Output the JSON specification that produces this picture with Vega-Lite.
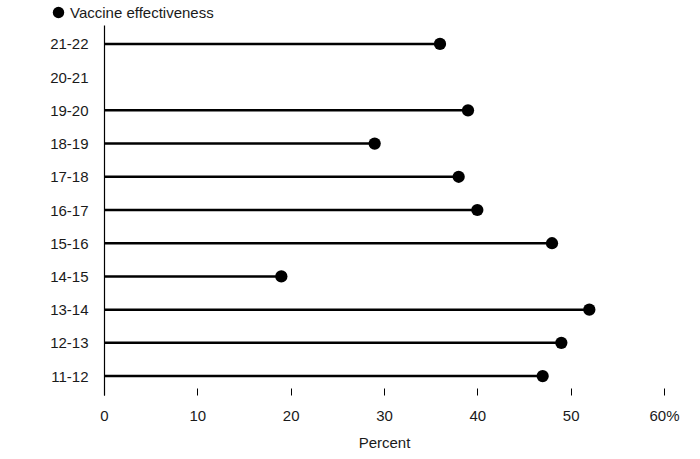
{
  "$schema": "https://vega.github.io/schema/vega-lite/v6.json",
  "width": 560,
  "height": 370,
  "autosize": "none",
  "padding": {"left": 104, "top": 25, "right": 36, "bottom": 64},
  "config": {
    "font": "Liberation Sans",
    "view": {"stroke": null},
    "axis": {"labelFont": "Liberation Sans", "titleFont": "Liberation Sans", "labelColor": "#1a1a1a", "titleColor": "#1a1a1a", "labelFontSize": 15, "titleFontSize": 15, "titleFontWeight": "normal", "grid": false},
    "legend": {"labelFontSize": 15, "labelFont": "Liberation Sans", "labelColor": "#1a1a1a"}
  },
  "data": {
    "values": [
      {"season": "21-22", "value": 36},
      {"season": "20-21", "value": null},
      {"season": "19-20", "value": 39},
      {"season": "18-19", "value": 29},
      {"season": "17-18", "value": 38},
      {"season": "16-17", "value": 40},
      {"season": "15-16", "value": 48},
      {"season": "14-15", "value": 19},
      {"season": "13-14", "value": 52},
      {"season": "12-13", "value": 49},
      {"season": "11-12", "value": 47}
    ]
  },
  "encoding": {
    "y": {
      "field": "season",
      "type": "ordinal",
      "sort": null,
      "scale": {"type": "point", "padding": 0.57, "domain": ["21-22", "20-21", "19-20", "18-19", "17-18", "16-17", "15-16", "14-15", "13-14", "12-13", "11-12"]},
      "axis": {"title": null, "ticks": false, "labelPadding": 16, "domainColor": "#000", "domainWidth": 1.2}
    },
    "x": {
      "field": "value",
      "type": "quantitative",
      "scale": {"domain": [0, 60]},
      "axis": {"title": "Percent", "values": [0, 10, 20, 30, 40, 50, 60], "domain": false, "tickSize": -7, "tickColor": "#000", "labelFlush": false, "labelPadding": 20, "titlePadding": 12, "labelExpr": "datum.value == 60 ? '60%' : datum.label"}
    }
  },
  "layer": [
    {
      "mark": {"type": "rule", "color": "#000", "strokeWidth": 2.5},
      "encoding": {
        "x2": {"datum": 0}
      }
    },
    {
      "mark": {"type": "point", "filled": true, "opacity": 1, "size": 150},
      "encoding": {
        "color": {
          "datum": "Vaccine effectiveness",
          "scale": {"range": ["#000"]},
          "legend": {"title": null, "orient": "none", "legendX": -53, "legendY": -20, "labelFontSize": 15, "symbolType": "circle", "symbolSize": 130, "symbolFillColor": "#000", "symbolStrokeWidth": 0, "labelOffset": 4}
        }
      }
    }
  ]
}
